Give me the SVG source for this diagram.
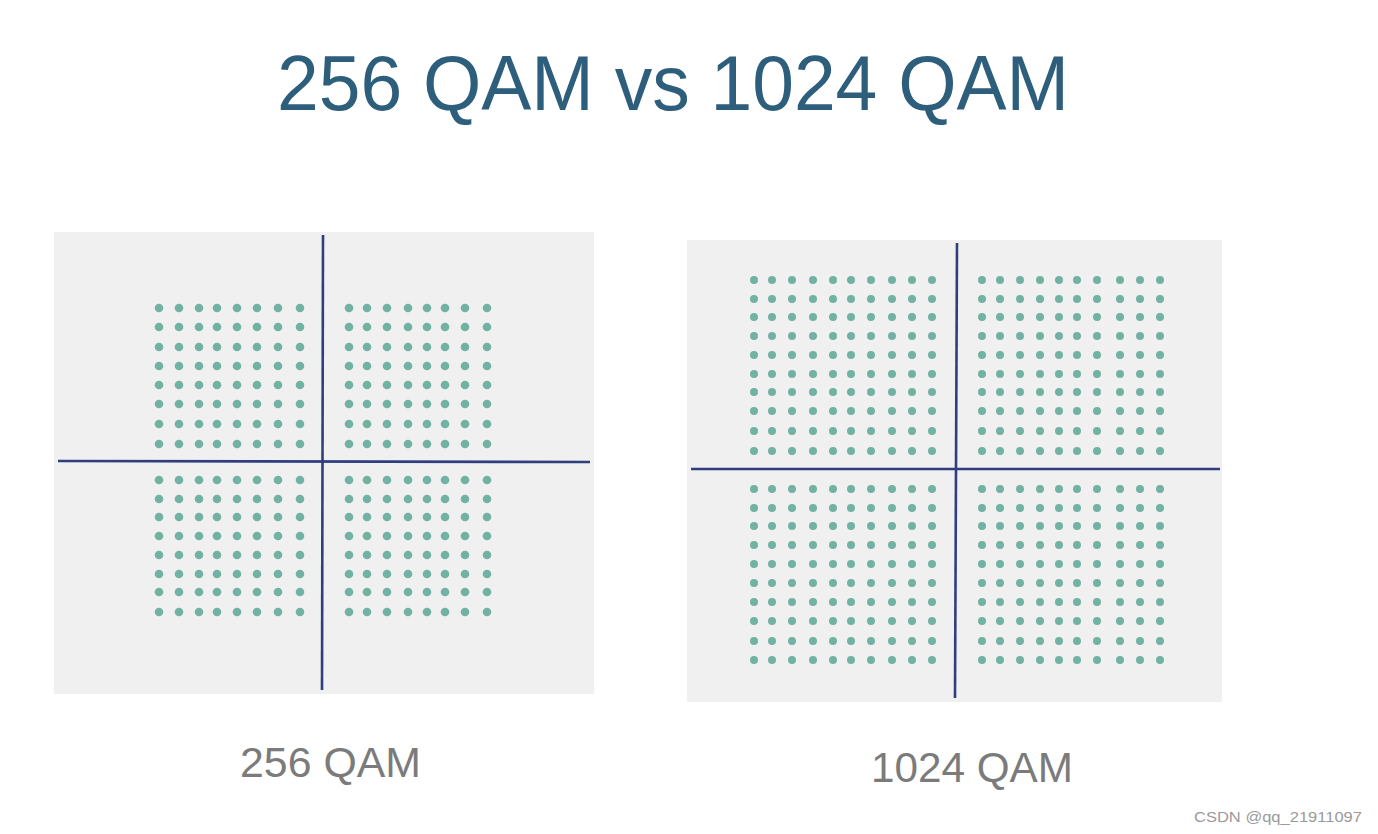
<svg xmlns="http://www.w3.org/2000/svg" width="1378" height="834" viewBox="0 0 1378 834">
<style>
.panel{fill:#f0f0f0}
.axis{stroke:#2f3f7e;stroke-width:2.6;fill:none}
.dl{fill:#72b2a2}
.title{font-family:"Liberation Sans",Arial,sans-serif;fill:#2d5e7b}
.label{font-family:"Liberation Sans",Arial,sans-serif;fill:#7b7b7b}
.wm{font-family:"Liberation Sans",Arial,sans-serif;fill:#9a9a9a;font-size:15px}
</style>
<defs>
<g id="rowLL" class="dl"><circle cx="159" cy="0" r="4.3"/><circle cx="179" cy="0" r="4.3"/><circle cx="199" cy="0" r="4.3"/><circle cx="217" cy="0" r="4.3"/><circle cx="237" cy="0" r="4.3"/><circle cx="257" cy="0" r="4.3"/><circle cx="278" cy="0" r="4.3"/><circle cx="300" cy="0" r="4.3"/></g>
<g id="rowLR" class="dl"><circle cx="349" cy="0" r="4.3"/><circle cx="367" cy="0" r="4.3"/><circle cx="387" cy="0" r="4.3"/><circle cx="408" cy="0" r="4.3"/><circle cx="427" cy="0" r="4.3"/><circle cx="445" cy="0" r="4.3"/><circle cx="465" cy="0" r="4.3"/><circle cx="487" cy="0" r="4.3"/></g>
<g id="rowL"><use href="#rowLL"/><use href="#rowLR"/></g>
<g id="rowRL" class="dl"><circle cx="754" cy="0" r="4"/><circle cx="772" cy="0" r="4"/><circle cx="792" cy="0" r="4"/><circle cx="813" cy="0" r="4"/><circle cx="833" cy="0" r="4"/><circle cx="851" cy="0" r="4"/><circle cx="871" cy="0" r="4"/><circle cx="892" cy="0" r="4"/><circle cx="912" cy="0" r="4"/><circle cx="932" cy="0" r="4"/></g>
<g id="rowRR" class="dl"><circle cx="982" cy="0" r="4"/><circle cx="1000" cy="0" r="4"/><circle cx="1020" cy="0" r="4"/><circle cx="1040" cy="0" r="4"/><circle cx="1059" cy="0" r="4"/><circle cx="1077" cy="0" r="4"/><circle cx="1097" cy="0" r="4"/><circle cx="1120" cy="0" r="4"/><circle cx="1140" cy="0" r="4"/><circle cx="1160" cy="0" r="4"/></g>
<g id="rowR"><use href="#rowRL"/><use href="#rowRR"/></g>
</defs>
<rect width="1378" height="834" fill="#ffffff"/>
<text class="title" x="277" y="110" font-size="78" textLength="792" lengthAdjust="spacingAndGlyphs">256 QAM vs 1024 QAM</text>

<g id="qam256">
<rect class="panel" x="54" y="232" width="540" height="462"/>
<g id="dots256">
<use href="#rowL" y="308"/><use href="#rowL" y="327"/><use href="#rowL" y="347"/><use href="#rowL" y="366"/>
<use href="#rowL" y="385"/><use href="#rowL" y="404"/><use href="#rowL" y="424"/><use href="#rowL" y="444"/>
<use href="#rowL" y="480"/><use href="#rowL" y="499"/><use href="#rowL" y="517"/><use href="#rowL" y="536"/>
<use href="#rowL" y="555"/><use href="#rowL" y="574"/><use href="#rowL" y="592"/><use href="#rowL" y="612"/>
</g>
<line class="axis" x1="323" y1="235" x2="322" y2="690"/>
<line class="axis" x1="58" y1="461" x2="590" y2="462"/>
<text class="label" x="240" y="777" font-size="43" textLength="181" lengthAdjust="spacingAndGlyphs">256 QAM</text>
</g>

<g id="qam1024">
<rect class="panel" x="687" y="240" width="535" height="462"/>
<g id="dots1024">
<use href="#rowR" y="280"/><use href="#rowR" y="299"/><use href="#rowR" y="317"/><use href="#rowR" y="336"/><use href="#rowR" y="355"/>
<use href="#rowR" y="374"/><use href="#rowR" y="392"/><use href="#rowR" y="411"/><use href="#rowR" y="431"/><use href="#rowR" y="451"/>
<use href="#rowR" y="489"/><use href="#rowR" y="508"/><use href="#rowR" y="526"/><use href="#rowR" y="545"/><use href="#rowR" y="564"/>
<use href="#rowR" y="583"/><use href="#rowR" y="602"/><use href="#rowR" y="621"/><use href="#rowR" y="641"/><use href="#rowR" y="660"/>
</g>
<line class="axis" x1="957" y1="243" x2="955" y2="698"/>
<line class="axis" x1="691" y1="469" x2="1220" y2="469"/>
<text class="label" x="871" y="782" font-size="43" textLength="202" lengthAdjust="spacingAndGlyphs">1024 QAM</text>
</g>

<text class="wm" x="1194" y="822" textLength="168" lengthAdjust="spacingAndGlyphs">CSDN @qq_21911097</text>
</svg>
